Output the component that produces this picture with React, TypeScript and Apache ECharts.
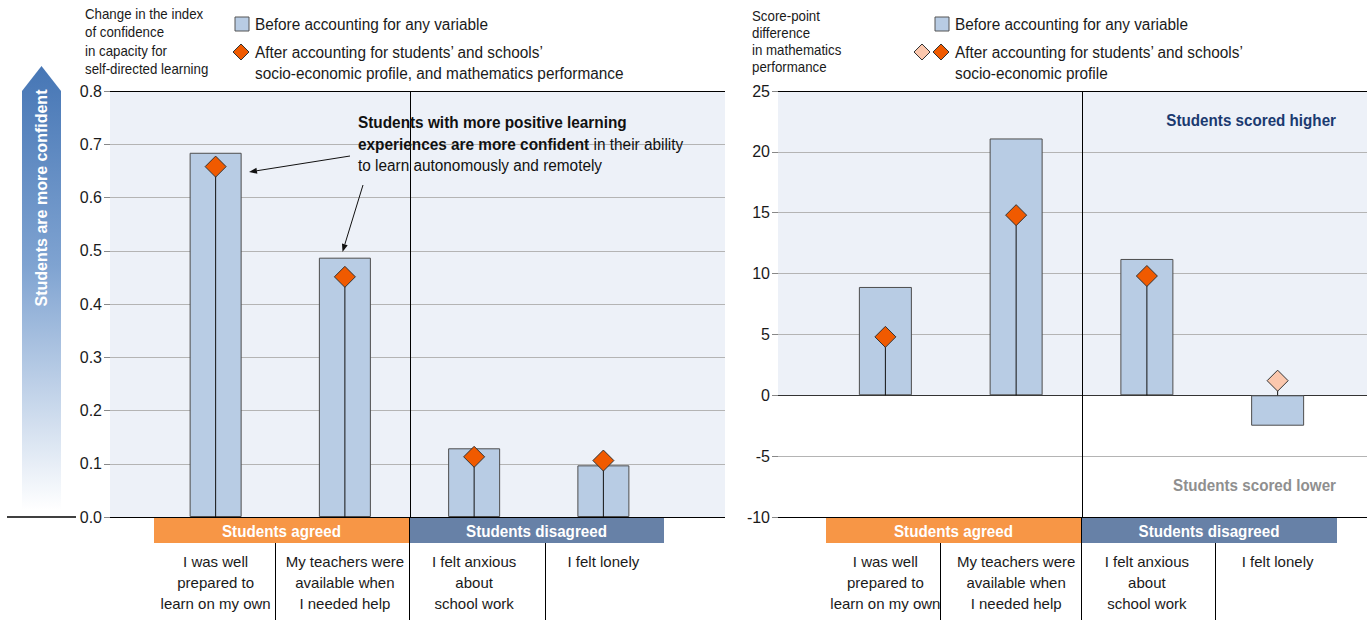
import React, { useEffect, useRef } from "react";
import * as echarts from "echarts";

const FONT = "'Liberation Sans Narrow', 'Arial Narrow', 'Liberation Sans', Arial, sans-serif";

const categories = [
  "I was well\nprepared to\nlearn on my own",
  "My teachers were\navailable when\nI needed help",
  "I felt anxious\nabout\nschool work",
  "I felt lonely",
];
const groupLabels = ["Students agreed", "Students disagreed"];

const leftBefore = [0.684, 0.487, 0.129, 0.097];
const leftAfter = [0.658, 0.451, 0.113, 0.106];

const rightBefore = [8.9, 21.1, 11.2, -2.5];
const rightAfter = [4.8, 14.8, 9.8, 1.2];
const rightAfterSignificant = [true, true, true, false];

const leftAxis = { min: 0, max: 0.8, interval: 0.1 };
const rightAxis = { min: -10, max: 25, interval: 5 };

const BAR = "#b8cce4";
const BAR_BORDER = "#4d4d4d";
const DIA = "#f05a00";
const DIA_LIGHT = "#fbc7ad";
const BG = "#edf1f8";
const GRID = "#b4b4b4";
const ORANGE = "#f79646";
const STEEL = "#6781a7";

function arrow(x1: number, y1: number, x2: number, y2: number) {
  const dx = x2 - x1, dy = y2 - y1;
  const len = Math.sqrt(dx * dx + dy * dy);
  const ux = dx / len, uy = dy / len;
  const bx = x2 - ux * 8, by = y2 - uy * 8;
  const px = -uy, py = ux;
  return [
    { type: "line", shape: { x1, y1, x2: bx, y2: by }, style: { stroke: "#111", lineWidth: 1 }, z: 10 },
    {
      type: "polygon",
      shape: { points: [[x2, y2], [bx + px * 3, by + py * 3], [bx - px * 3, by - py * 3]] },
      style: { fill: "#111" },
      z: 10,
    },
  ];
}

function diamond(cx: number, cy: number, fill: string) {
  return {
    type: "polygon",
    shape: { points: [[cx, cy - 8], [cx + 8, cy], [cx, cy + 8], [cx - 8, cy]] },
    style: { fill, stroke: "#333", lineWidth: 1 },
  };
}

function txt(x: number, y: number, text: string, extra: any = {}, scaleX = 1) {
  return {
    type: "text",
    x,
    y,
    scaleX,
    style: { text, fontFamily: FONT, fontSize: 16, fill: "#1a1a1a", ...extra },
    z: 10,
  };
}

export default function App() {
  const ref = useRef<HTMLDivElement>(null);
  useEffect(() => {
    if (!ref.current) return;
    const chart = echarts.init(ref.current, undefined, { renderer: "svg" });

    const splitColorsLeft = ["#000", GRID, GRID, GRID, GRID, GRID, GRID, GRID, "#000"];
    const splitColorsRight = ["#000", GRID, "#333", GRID, GRID, GRID, GRID, "#000"];

    const valueAxisCommon = (ax: any, colors: string[], fmt: (v: number) => string) => ({
      type: "value",
      min: ax.min,
      max: ax.max,
      interval: ax.interval,
      axisLine: { show: false },
      axisTick: { show: true, length: 6, lineStyle: { color: "#888" } },
      axisLabel: { fontFamily: FONT, fontSize: 16, color: "#1a1a1a", margin: 8, formatter: fmt },
      splitLine: { show: true, lineStyle: { color: colors, width: 1 } },
    });

    const catAxis = (gridIndex: number) => ({
      type: "category",
      gridIndex,
      data: categories,
      axisLine: { show: false },
      axisTick: { show: false },
      axisLabel: {
        interval: 0,
        fontFamily: FONT,
        fontSize: 15,
        lineHeight: 21,
        color: "#1a1a1a",
        margin: 34,
      },
      splitLine: { show: false },
    });

    const hiddenY = (gridIndex: number, ax: any) => ({
      type: "value",
      gridIndex,
      min: ax.min,
      max: ax.max,
      interval: ax.interval,
      show: false,
      splitLine: { show: false },
    });

    const lineSeries = (xi: number, yi: number, vals: number[]) => ({
      type: "custom",
      xAxisIndex: xi,
      yAxisIndex: yi,
      z: 3,
      data: vals.map((v, i) => [i, v]),
      renderItem: (params: any, api: any) => {
        const a = api.coord([api.value(0), 0]);
        const b = api.coord([api.value(0), api.value(1)]);
        return {
          type: "line",
          shape: { x1: a[0], y1: a[1], x2: b[0], y2: b[1] },
          style: { stroke: "#111", lineWidth: 1 },
        };
      },
    });

    // vertical divider between the "agreed" and "disagreed" groups
    const dividerSeries = (xi: number, yi: number, ax: any) => ({
      type: "custom",
      xAxisIndex: xi,
      yAxisIndex: yi,
      z: 1,
      data: [[1, 2]],
      renderItem: (params: any, api: any) => {
        const a = api.coord([api.value(0), ax.max]);
        const b = api.coord([api.value(1), ax.min]);
        const x = Math.round((a[0] + b[0]) / 2) + 0.5;
        return {
          type: "line",
          shape: { x1: x, y1: a[1], x2: x, y2: b[1] },
          style: { stroke: "#000", lineWidth: 1 },
        };
      },
    });

    const graphics: any[] = [
      // left gradient arrow
      {
        type: "polygon",
        shape: { points: [[41.5, 66], [61, 91], [61, 510], [22, 510], [22, 91]] },
        style: {
          fill: {
            type: "linear",
            x: 0, y: 0, x2: 0, y2: 1,
            colorStops: [
              { offset: 0, color: "#4676b5" },
              { offset: 0.45, color: "#7fa3d1" },
              { offset: 1, color: "#ffffff" },
            ],
          },
        },
      },
      {
        type: "text",
        x: 41.5,
        y: 198,
        rotation: Math.PI / 2,
        style: {
          text: "Students are more confident",
          fontFamily: FONT,
          fontSize: 16,
          fontWeight: "bold",
          fill: "#fff",
          align: "center",
          verticalAlign: "middle",
        },
        z: 10,
      },
      { type: "line", shape: { x1: 7, y1: 517, x2: 76, y2: 517 }, style: { stroke: "#000", lineWidth: 1.5 } },

      // axis titles
      txt(85, 5, "Change in the index\nof confidence\nin capacity for\nself-directed learning", { fontSize: 14, lineHeight: 18.5 }, 0.95),
      txt(752, 8, "Score-point\ndifference\nin mathematics\nperformance", { fontSize: 14, lineHeight: 17 }, 0.95),

      // left legend
      { type: "rect", shape: { x: 235, y: 17, width: 14, height: 14 }, style: { fill: BAR, stroke: "#555", lineWidth: 1 } },
      txt(255, 24, "Before accounting for any variable", { verticalAlign: "middle" }, 0.96),
      diamond(241, 52, DIA),
      txt(255, 42, "After accounting for students\u2019 and schools\u2019\nsocio-economic profile, and mathematics performance", { lineHeight: 21 }, 0.96),

      // right legend
      { type: "rect", shape: { x: 935, y: 17, width: 14, height: 14 }, style: { fill: BAR, stroke: "#555", lineWidth: 1 } },
      txt(955, 24, "Before accounting for any variable", { verticalAlign: "middle" }, 0.96),
      diamond(922, 52, DIA_LIGHT),
      diamond(941, 52, DIA),
      txt(955, 42, "After accounting for students\u2019 and schools\u2019\nsocio-economic profile", { lineHeight: 21 }, 0.96),

      // annotation
      {
        type: "text",
        x: 358,
        y: 112,
        scaleX: 0.96,
        style: {
          text:
            "{b|Students with more positive learning}\n{b|experiences are more confident}{n| in their ability}\n{n|to learn autonomously and remotely}",
          fontFamily: FONT,
          fontSize: 16,
          fill: "#111",
          rich: {
            b: { fontFamily: FONT, fontSize: 16, fontWeight: "bold", lineHeight: 21.5, fill: "#111" },
            n: { fontFamily: FONT, fontSize: 16, lineHeight: 21.5, fill: "#111" },
          },
        },
        z: 10,
      },
      ...arrow(350, 156, 249, 172),
      ...arrow(363, 185, 342.5, 252),

      // right region labels
      txt(1336, 120, "Students scored higher", { align: "right", verticalAlign: "middle", fontWeight: "bold", fontSize: 16, fill: "#1b3a70" }, 0.95),
      txt(1336, 485, "Students scored lower", { align: "right", verticalAlign: "middle", fontWeight: "bold", fontSize: 16, fill: "#8f8f8f" }, 0.95),
    ];

    // group bands and separators
    const bands = [
      { x0: 154, mid: 409, x1: 664, seps: [275, 409, 545] },
      { x0: 826, mid: 1081, x1: 1337, seps: [940, 1081, 1215] },
    ];
    bands.forEach((b) => {
      graphics.push({ type: "rect", shape: { x: b.x0, y: 518, width: b.mid - b.x0, height: 25 }, style: { fill: ORANGE } });
      graphics.push({ type: "rect", shape: { x: b.mid, y: 518, width: b.x1 - b.mid, height: 25 }, style: { fill: STEEL } });
      graphics.push(txt((b.x0 + b.mid) / 2, 531, groupLabels[0], { align: "center", verticalAlign: "middle", fontWeight: "bold", fill: "#fff" }, 0.95));
      graphics.push(txt((b.mid + b.x1) / 2, 531, groupLabels[1], { align: "center", verticalAlign: "middle", fontWeight: "bold", fill: "#fff" }, 0.95));
      b.seps.forEach((s) => {
        graphics.push({ type: "line", shape: { x1: s + 0.5, y1: 543, x2: s + 0.5, y2: 620 }, style: { stroke: "#000", lineWidth: 1 } });
      });
      graphics.push({ type: "line", shape: { x1: b.mid + 0.5, y1: 517, x2: b.mid + 0.5, y2: 543 }, style: { stroke: "#000", lineWidth: 1 } });
    });

    const option: any = {
      animation: false,
      textStyle: { fontFamily: FONT },
      grid: [
        { left: 110, top: 91, width: 615, height: 426, show: true, backgroundColor: BG, borderWidth: 0 },
        { left: 151, top: 91, width: 517, height: 426 },
        { left: 778, top: 91, width: 589, height: 426 },
        { left: 820, top: 91, width: 523, height: 426 },
      ],
      xAxis: [
        { type: "value", gridIndex: 0, min: 0, max: 1, show: false },
        catAxis(1),
        { type: "value", gridIndex: 2, min: 0, max: 1, show: false },
        catAxis(3),
      ],
      yAxis: [
        { gridIndex: 0, ...valueAxisCommon(leftAxis, splitColorsLeft, (v: number) => v.toFixed(1)) },
        hiddenY(1, leftAxis),
        { gridIndex: 2, ...valueAxisCommon(rightAxis, splitColorsRight, (v: number) => String(v)) },
        hiddenY(3, rightAxis),
      ],
      series: [
        {
          type: "custom",
          xAxisIndex: 2,
          yAxisIndex: 2,
          z: -1,
          data: [[0, rightAxis.max]],
          renderItem: (params: any, api: any) => {
            const a = api.coord([0, rightAxis.max]);
            const b = api.coord([1, 0]);
            return {
              type: "rect",
              shape: { x: a[0], y: a[1], width: b[0] - a[0], height: b[1] - a[1] },
              style: { fill: BG },
            };
          },
        },
        dividerSeries(1, 1, leftAxis),
        dividerSeries(3, 3, rightAxis),
        {
          type: "bar",
          xAxisIndex: 1,
          yAxisIndex: 1,
          barWidth: 52,
          data: leftBefore,
          itemStyle: { color: BAR, borderColor: BAR_BORDER, borderWidth: 1 },
        },
        lineSeries(1, 1, leftAfter),
        {
          type: "scatter",
          xAxisIndex: 1,
          yAxisIndex: 1,
          symbol: "diamond",
          symbolSize: 21,
          z: 4,
          data: leftAfter,
          itemStyle: { color: DIA, borderColor: "#333", borderWidth: 1, opacity: 1 },
        },
        {
          type: "bar",
          xAxisIndex: 3,
          yAxisIndex: 3,
          barWidth: 53,
          data: rightBefore,
          itemStyle: { color: BAR, borderColor: BAR_BORDER, borderWidth: 1 },
        },
        lineSeries(3, 3, rightAfter),
        {
          type: "scatter",
          xAxisIndex: 3,
          yAxisIndex: 3,
          symbol: "diamond",
          symbolSize: 21,
          z: 4,
          data: rightAfter.map((v, i) => ({
            value: v,
            itemStyle: { color: rightAfterSignificant[i] ? DIA : DIA_LIGHT },
          })),
          itemStyle: { borderColor: "#333", borderWidth: 1, opacity: 1 },
        },
      ],
      graphic: graphics,
    };
    chart.setOption(option);
    return () => chart.dispose();
  }, []);
  return <div ref={ref} style={{ position: "fixed", left: 0, top: 0, width: 1371, height: 620, background: "#fff" }} />;
}
